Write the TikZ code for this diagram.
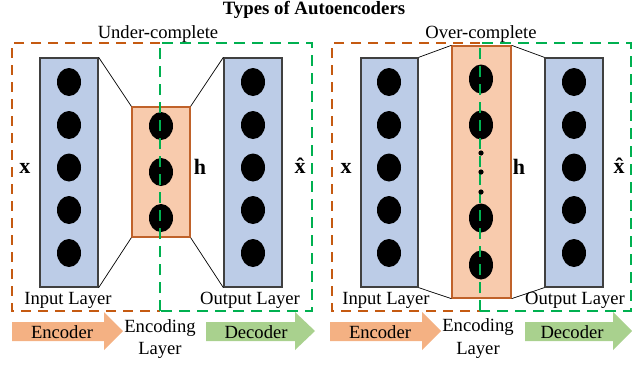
\documentclass[tikz,border=0pt]{standalone}
\usepackage{fontspec}
\setmainfont{Liberation Serif}
\begin{document}
\begin{tikzpicture}[x=1pt,y=-1pt,
  every node/.style={inner sep=0pt,font=\fontsize{18.6}{22}\selectfont},
  layerbox/.style={draw=black!75,fill=inblue,line width=1.3pt},
  codebox/.style={draw=codeedge,fill=codefill,line width=1.3pt},
  neuron/.style={fill=black,draw=none},
  link/.style={draw=black,line width=0.7pt},
  encbound/.style={draw=encdash,line width=2.8pt,dash pattern=on 10pt off 7pt},
  decbound/.style={draw=decdash,line width=2.8pt,dash pattern=on 11pt off 7pt},
  varlabel/.style={font=\fontsize{22}{24}\selectfont\bfseries,anchor=base},
  caption/.style={anchor=base},
  encarrow/.style={fill=encfill,draw=none},
  decarrow/.style={fill=decfill,draw=none}]
\definecolor{inblue}{HTML}{BCCCE7}
\definecolor{codefill}{HTML}{F8CBAD}
\definecolor{codeedge}{HTML}{C0622A}
\definecolor{encdash}{HTML}{C55A11}
\definecolor{decdash}{HTML}{00B050}
\definecolor{encfill}{HTML}{F4B183}
\definecolor{decfill}{HTML}{A9D18E}
\useasboundingbox (0,0) rectangle (632,367);

\node[caption,font=\fontsize{18.8}{20}\selectfont\bfseries] (title) at (314,14) {Types of Autoencoders};

% ---------------- under-complete ----------------
\node[caption] (uclabel) at (158,38) {Under-complete};
\node[layerbox,minimum width=58pt,minimum height=229pt] (uin) at (69,172.5) {};
\node[codebox,minimum width=58pt,minimum height=130pt] (ucode) at (161,172) {};
\node[layerbox,minimum width=58pt,minimum height=229pt] (uout) at (253,172.5) {};
\draw[link] (uin.north east) -- (ucode.north west);
\draw[link] (uin.south east) -- (ucode.south west);
\draw[link] (ucode.north east) -- (uout.north west);
\draw[link] (ucode.south east) -- (uout.south west);
\foreach \yy in {82,125,167.5,210,253}{
  \fill[neuron] (69,\yy) ellipse (12 and 14);
  \fill[neuron] (253,\yy) ellipse (12 and 14);
}
\foreach \yy in {126,172,218}{
  \fill[neuron] (161,\yy) ellipse (12 and 14);
}
\node[varlabel] (ux) at (25,173) {x};
\node[varlabel] (uh) at (200,174) {h};
\node[varlabel] (uxh) at (300,173) {x̂};
\node[caption] (uinl) at (68,304) {Input Layer};
\node[caption] (uoutl) at (250,304) {Output Layer};
\draw[encbound] (160,43) -- (12,43) -- (12,311) -- (160,311);
\draw[decbound] (160,311) -- (160,43) -- (312,43) -- (312,311) -- cycle;
\fill[encarrow] (12,322) -- (104,322) -- (104,312) -- (123,331) -- (104,350) -- (104,341) -- (12,341) -- cycle;
\fill[decarrow] (206,322) -- (295,322) -- (295,312) -- (315,331) -- (295,350) -- (295,341) -- (206,341) -- cycle;
\node[caption] (uenc) at (62,338) {Encoder};
\node[caption] (udec) at (256,338) {Decoder};
\node[caption] (ucodel) at (160,332) {Encoding};
\node[caption] (ucodel2) at (160,354) {Layer};

% ---------------- over-complete ----------------
\node[caption] (oclabel) at (481,38) {Over-complete};
\node[layerbox,minimum width=57pt,minimum height=229pt] (oin) at (389.5,172.5) {};
\node[codebox,minimum width=59pt,minimum height=252pt] (ocode) at (481.5,172) {};
\node[layerbox,minimum width=58pt,minimum height=229pt] (oout) at (574,172.5) {};
\draw[link] (oin.north east) -- (ocode.north west);
\draw[link] (oin.south east) -- (ocode.south west);
\draw[link] (ocode.north east) -- (oout.north west);
\draw[link] (ocode.south east) -- (oout.south west);
\foreach \yy in {82,125,167.5,210,253}{
  \fill[neuron] (389,\yy) ellipse (12 and 14);
  \fill[neuron] (574,\yy) ellipse (12 and 14);
}
\foreach \yy in {79,125,218,265}{
  \fill[neuron] (481,\yy) ellipse (12 and 14.5);
}
\node[varlabel] (ox) at (346,173) {x};
\node[varlabel] (oh) at (519,174) {h};
\node[varlabel] (oxh) at (619,173) {x̂};
\node[caption] (oinl) at (386,304) {Input Layer};
\node[caption] (ooutl) at (575,304) {Output Layer};
\draw[encbound] (480,43) -- (332,43) -- (332,311) -- (480,311);
\draw[decbound] (480,311) -- (480,43) -- (631,43) -- (631,311) -- cycle;
% ellipsis dots between the code neurons sit on top of the boundary line
\foreach \yy in {153,172,192}{
  \fill[neuron] (481,\yy) circle (2.6);
}
\fill[encarrow] (330,322) -- (422,322) -- (422,312) -- (441,331) -- (422,350) -- (422,341) -- (330,341) -- cycle;
\fill[decarrow] (525,322) -- (613,322) -- (613,312) -- (632,331) -- (613,350) -- (613,341) -- (525,341) -- cycle;
\node[caption] (oenc) at (380,338) {Encoder};
\node[caption] (odec) at (572,338) {Decoder};
\node[caption] (ocodel) at (478,331) {Encoding};
\node[caption] (ocodel2) at (478,354) {Layer};
\end{tikzpicture}
\end{document}
